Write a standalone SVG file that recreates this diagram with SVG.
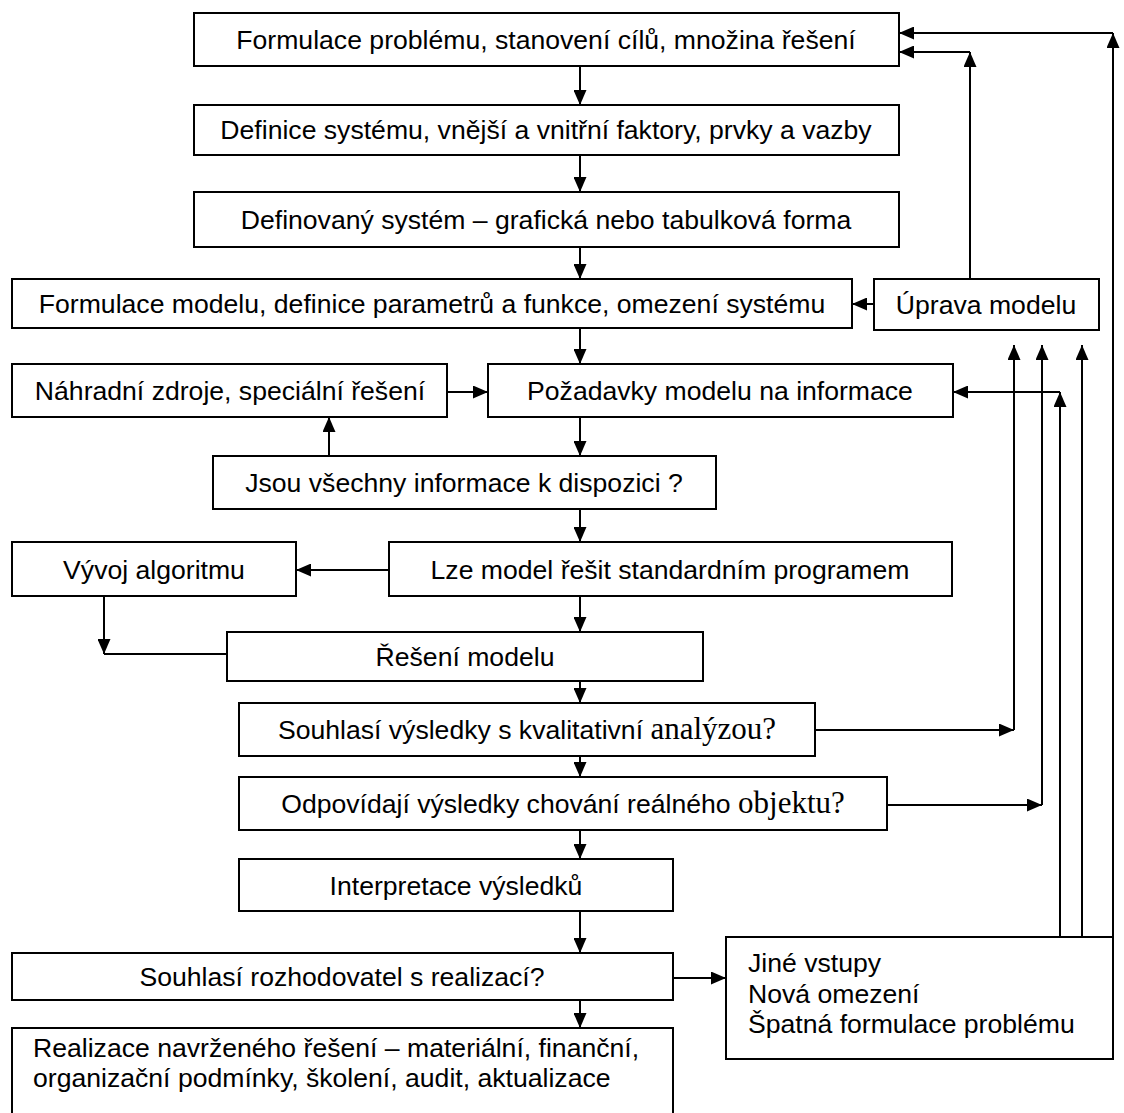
<svg xmlns="http://www.w3.org/2000/svg" width="1124" height="1113" viewBox="0 0 1124 1113">
<style>
.box{fill:#fff;stroke:#000;stroke-width:2}
.t{font-family:"Liberation Sans",Arial,sans-serif;font-size:26.6px;text-anchor:middle;fill:#000}
.tl{font-family:"Liberation Sans",Arial,sans-serif;font-size:26.6px;fill:#000}
.s{font-family:"Liberation Serif","Times New Roman",serif;font-size:31px}
.c{stroke:#000;stroke-width:2;fill:none}
</style>
<defs>
<marker id="ah" viewBox="0 0 15 13" refX="15" refY="6.5" markerWidth="15" markerHeight="13" markerUnits="userSpaceOnUse" orient="auto">
<path d="M0,0 L15,6.5 L0,13 z" fill="#000"/>
</marker>
</defs>
<rect width="1124" height="1113" fill="#fff"/>
<g id="connectors" class="c" marker-end="url(#ah)">
<path d="M580,66 V105"/>
<path d="M580,155 V192"/>
<path d="M580,247 V279"/>
<path d="M580,328 V364"/>
<path d="M580,417 V456"/>
<path d="M580,509 V542"/>
<path d="M580,596 V632"/>
<path d="M580,681 V703"/>
<path d="M580,756 V777"/>
<path d="M580,830 V859"/>
<path d="M580,911 V953"/>
<path d="M580,1000 V1028"/>
<path d="M874,304 H852"/>
<path d="M970,279 V52"/>
<path d="M970,52 H899"/>
<path d="M1113,937 V33"/>
<path d="M1113,33 H899"/>
<path d="M447,392 H488"/>
<path d="M329,456 V417"/>
<path d="M389,570 H296"/>
<path d="M104,596 V654"/>
<path d="M104,654 H227" marker-end="none"/>
<path d="M815,730 H1014"/>
<path d="M1014,730 V345"/>
<path d="M887,805 H1042"/>
<path d="M1042,805 V345"/>
<path d="M1060,937 V392"/>
<path d="M1060,392 H953"/>
<path d="M1082,937 V345"/>
<path d="M673,978 H726"/>
</g>
<g id="n1"><rect class="box" x="194" y="13" width="705" height="53"/><text class="t" x="546" y="49">Formulace problému, stanovení cílů, množina řešení</text></g>
<g id="n2"><rect class="box" x="194" y="105" width="705" height="50"/><text class="t" x="546" y="139">Definice systému, vnější a vnitřní faktory, prvky a vazby</text></g>
<g id="n3"><rect class="box" x="194" y="192" width="705" height="55"/><text class="t" x="546" y="229">Definovaný systém – grafická nebo tabulková forma</text></g>
<g id="n4"><rect class="box" x="12" y="279" width="840" height="49"/><text class="t" x="432" y="313">Formulace modelu, definice parametrů a funkce, omezení systému</text></g>
<g id="n5"><rect class="box" x="874" y="279" width="225" height="51"/><text class="t" x="986" y="314">Úprava modelu</text></g>
<g id="n6"><rect class="box" x="12" y="364" width="435" height="53"/><text class="t" x="230" y="400">Náhradní zdroje, speciální řešení</text></g>
<g id="n7"><rect class="box" x="488" y="364" width="465" height="53"/><text class="t" x="720" y="400">Požadavky modelu na informace</text></g>
<g id="n8"><rect class="box" x="213" y="456" width="503" height="53"/><text class="t" x="464" y="492">Jsou všechny informace k dispozici ?</text></g>
<g id="n9"><rect class="box" x="12" y="542" width="284" height="54"/><text class="t" x="154" y="579">Vývoj algoritmu</text></g>
<g id="n10"><rect class="box" x="389" y="542" width="563" height="54"/><text class="t" x="670" y="579">Lze model řešit standardním programem</text></g>
<g id="n11"><rect class="box" x="227" y="632" width="476" height="49"/><text class="t" x="465" y="666">Řešení modelu</text></g>
<g id="n12"><rect class="box" x="239" y="703" width="576" height="53"/><text class="t" x="527" y="739">Souhlasí výsledky s kvalitativní <tspan class="s">analýzou?</tspan></text></g>
<g id="n13"><rect class="box" x="239" y="777" width="648" height="53"/><text class="t" x="563" y="813">Odpovídají výsledky chování reálného <tspan class="s">objektu?</tspan></text></g>
<g id="n14"><rect class="box" x="239" y="859" width="434" height="52"/><text class="t" x="456" y="895">Interpretace výsledků</text></g>
<g id="n15"><rect class="box" x="12" y="953" width="661" height="47"/><text class="t" x="342" y="986">Souhlasí rozhodovatel s realizací?</text></g>
<g id="n16"><rect class="box" x="12" y="1028" width="661" height="100"/><text class="tl" x="33" y="1057">Realizace navrženého řešení – materiální, finanční,</text><text class="tl" x="33" y="1087">organizační podmínky, školení, audit, aktualizace</text></g>
<g id="n17"><rect class="box" x="726" y="937" width="387" height="122"/><text class="tl" x="748" y="972">Jiné vstupy</text><text class="tl" x="748" y="1003">Nová omezení</text><text class="tl" x="748" y="1033">Špatná formulace problému</text></g>
</svg>
